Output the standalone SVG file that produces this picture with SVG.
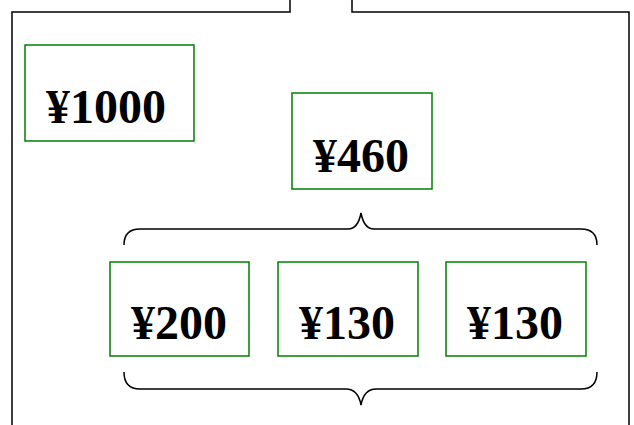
<svg xmlns="http://www.w3.org/2000/svg" width="634" height="425" viewBox="0 0 634 425">
<style>
.frame{fill:none;stroke:#000;stroke-width:1.5}
.box{fill:#fff;stroke:#008000;stroke-width:1.5}
.brace{fill:none;stroke:#000;stroke-width:1.5}
.lbl{font-family:"Liberation Serif","Times New Roman",serif;font-weight:bold;font-size:48px;fill:#000;text-anchor:middle}
</style>
<rect width="634" height="425" fill="#fff"/>
<path class="frame" d="M290,0 V12 H12 V425 M352,0 V12 H629 V425"/>
<g id="connectors">
<path class="brace" d="M124,245 Q124,229 140,229 L348,229 Q358,229 361,213 Q364,229 374,229 L581,229 Q597,229 597,245"/>
<path class="brace" d="M124,372 Q124,389 140,389 L346,389 Q358,389 361,405 Q364,389 376,389 L581,389 Q597,389 597,372"/>
</g>
<g id="n1000"><rect class="box" x="25" y="45" width="169" height="96"/><text class="lbl" x="106" y="123">¥1000</text></g>
<g id="n460"><rect class="box" x="292" y="93" width="140" height="96"/><text class="lbl" x="361" y="172">¥460</text></g>
<g id="n200"><rect class="box" x="110" y="262" width="139" height="94"/><text class="lbl" x="179" y="339">¥200</text></g>
<g id="n130a"><rect class="box" x="278" y="262" width="140" height="94"/><text class="lbl" x="347" y="339">¥130</text></g>
<g id="n130b"><rect class="box" x="446" y="262" width="140" height="94"/><text class="lbl" x="515" y="339">¥130</text></g>
</svg>
